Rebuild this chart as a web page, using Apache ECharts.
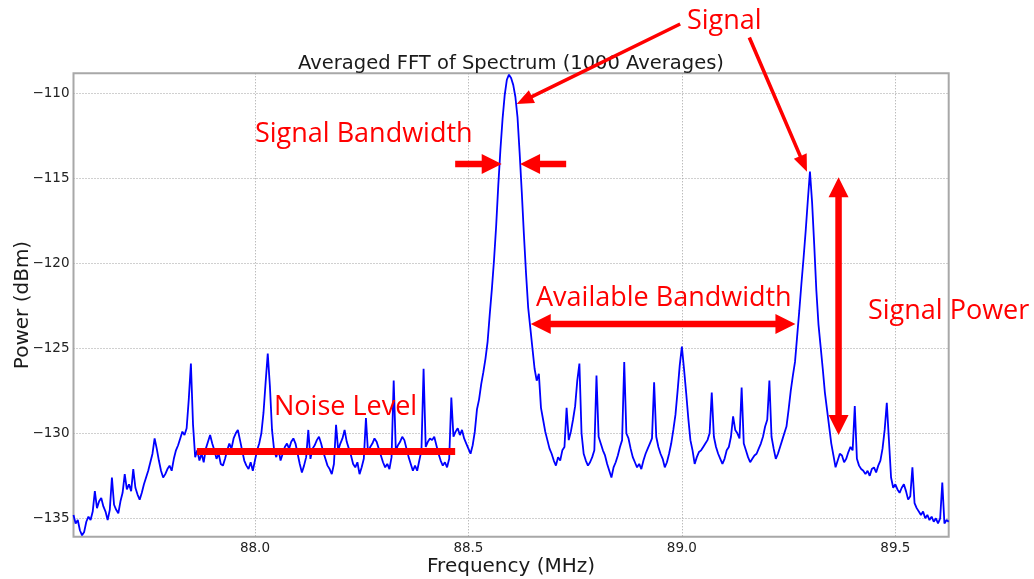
<!DOCTYPE html>
<html>
<head>
<meta charset="utf-8">
<title>Averaged FFT of Spectrum</title>
<script src="https://cdn.jsdelivr.net/npm/echarts@6/dist/echarts.min.js"></script>
<style>
  html, body { margin: 0; padding: 0; background: #ffffff; }
  #chart { width: 1034px; height: 579px; }
</style>
</head>
<body>
<div id="chart"></div>
<script>
// FFT bins: start frequency and bin spacing (MHz)
const freqStart = 87.575;
const freqStep = 0.005;

// Averaged power per bin (dBm)
const powerDbm = [
  -134.8,-135.3,-135.1,-135.7,-136.0,-135.8,-135.2,-134.9,-135.1,-134.6,
  -133.4,-134.4,-134.0,-133.8,-134.3,-134.6,-135.1,-134.5,-132.6,-134.2,
  -134.5,-134.7,-134.0,-133.5,-132.4,-133.3,-133.0,-133.4,-132.1,-133.2,
  -133.6,-133.9,-133.5,-133.0,-132.6,-132.2,-131.7,-131.2,-130.3,-130.9,
  -131.6,-132.2,-132.6,-132.4,-132.1,-131.9,-132.2,-131.5,-131.0,-130.7,
  -130.3,-129.9,-130.1,-129.7,-128.0,-125.9,-129.5,-131.4,-131.0,-131.6,
  -131.2,-131.7,-130.9,-130.5,-130.1,-130.6,-131.0,-131.5,-131.2,-131.8,
  -131.9,-131.5,-131.0,-130.6,-130.9,-130.3,-130.0,-129.8,-130.4,-131.0,
  -131.6,-131.9,-132.1,-131.7,-132.2,-131.6,-131.0,-130.6,-130.0,-128.8,
  -127.0,-125.3,-127.2,-129.8,-131.0,-131.4,-130.9,-131.6,-131.2,-130.8,
  -130.6,-130.9,-130.5,-130.3,-130.6,-131.2,-131.8,-132.3,-131.9,-131.4,
  -129.8,-131.5,-130.9,-130.7,-130.4,-130.2,-130.6,-131.1,-131.5,-131.9,
  -132.1,-132.4,-131.8,-129.5,-131.0,-130.6,-130.3,-129.8,-130.5,-130.9,
  -131.3,-131.8,-132.0,-131.7,-132.4,-132.0,-131.5,-129.1,-131.2,-130.8,
  -130.6,-130.3,-130.5,-130.9,-131.3,-131.7,-132.0,-131.8,-132.1,-131.4,
  -126.9,-131.0,-130.7,-130.5,-130.2,-130.4,-130.9,-131.4,-131.8,-132.2,
  -131.9,-132.2,-131.6,-131.0,-126.2,-130.8,-130.5,-130.3,-130.4,-130.2,
  -130.7,-131.2,-131.6,-131.9,-131.7,-132.0,-131.5,-127.9,-130.2,-129.9,
  -129.7,-130.1,-129.8,-130.3,-130.6,-130.9,-131.2,-130.7,-129.9,-128.6,
  -128.0,-127.1,-126.4,-125.6,-124.6,-123.0,-121.5,-119.8,-117.8,-115.4,
  -113.3,-111.5,-110.1,-109.2,-108.9,-109.1,-109.5,-110.2,-111.4,-113.5,
  -115.8,-118.3,-120.6,-122.6,-123.8,-125.0,-126.2,-126.9,-126.5,-128.5,
  -129.2,-129.9,-130.4,-130.9,-131.2,-131.6,-131.9,-131.4,-131.6,-131.0,
  -130.8,-128.5,-130.4,-129.9,-129.2,-128.4,-126.9,-125.9,-130.0,-131.2,
  -131.6,-131.9,-131.7,-131.4,-131.0,-126.6,-130.2,-130.6,-131.0,-131.3,
  -131.8,-132.2,-132.6,-132.0,-131.7,-131.3,-130.8,-130.4,-125.8,-130.0,
  -130.3,-130.9,-131.4,-131.7,-132.0,-131.8,-132.1,-131.6,-131.2,-130.9,
  -130.6,-130.3,-127.0,-130.2,-130.8,-131.2,-131.5,-132.0,-131.7,-131.2,
  -130.6,-129.8,-128.9,-127.5,-126.0,-124.9,-126.2,-127.6,-129.1,-130.4,
  -131.0,-131.8,-131.4,-131.1,-131.0,-130.8,-130.6,-130.4,-130.0,-127.6,
  -130.2,-130.8,-131.2,-131.5,-131.8,-131.5,-131.0,-130.8,-130.2,-129.0,
  -129.8,-130.0,-130.3,-127.3,-130.6,-131.0,-131.4,-131.7,-131.5,-131.3,
  -131.2,-130.9,-130.6,-130.2,-129.6,-129.2,-126.9,-130.2,-130.9,-131.5,
  -131.2,-130.8,-130.4,-130.0,-129.6,-128.6,-127.5,-126.6,-125.8,-124.3,
  -122.8,-121.2,-119.7,-118.1,-116.3,-114.6,-116.4,-118.9,-121.6,-123.6,
  -124.9,-126.2,-127.6,-128.6,-129.6,-130.6,-131.3,-132.0,-131.6,-131.2,
  -131.3,-131.7,-131.5,-131.1,-130.8,-131.0,-128.4,-131.5,-131.9,-132.1,
  -132.2,-132.4,-132.2,-132.5,-132.1,-132.0,-132.3,-131.9,-131.6,-130.9,
  -129.8,-128.2,-130.4,-132.6,-133.2,-133.0,-133.3,-133.5,-133.2,-133.0,
  -133.4,-133.9,-133.7,-132.0,-134.1,-134.4,-134.6,-134.8,-134.6,-135.0,
  -134.8,-135.1,-134.9,-135.2,-135.0,-135.3,-135.0,-132.9,-135.3,-135.1,-135.2
];

// Axis ranges and tick positions
const freqRange = [87.575, 89.625];
const powerRange = [-136.08, -108.82];
const freqTicks = [88.0, 88.5, 89.0, 89.5];
const powerTicks = [-135, -130, -125, -120, -115, -110];

// Annotation arrows, in (MHz, dBm)
const signalArrowA = [[88.996, -105.92], [88.613, -110.63]];
const signalArrowB = [[89.158, -106.71], [89.293, -114.61]];
const bandwidthArrowL = [[88.469, -114.16], [88.578, -114.16]];
const bandwidthArrowR = [[88.729, -114.16], [88.621, -114.16]];
const availableArrow = [[88.646, -123.57], [89.266, -123.57]];
const powerArrow = [[89.367, -114.94], [89.367, -130.10]];
const noiseLevel = [[87.864, -131.07], [88.469, -131.07]];

const freqs = powerDbm.map((_, i) => +(freqStart + i * freqStep).toFixed(3));
const spectrum = freqs.map((f, i) => [f, powerDbm[i]]);

const RED = '#ff0000';
const ANNO_FONT = '"Open Sans", "Noto Sans", sans-serif';
const AXIS_FONT = '"DejaVu Sans", sans-serif';

const chart = echarts.init(document.getElementById('chart'), null, { renderer: 'canvas' });

const fmtMinus = v => (v < 0 ? '\u2212' + Math.abs(v) : String(v));

chart.setOption({
  animation: false,
  backgroundColor: '#ffffff',
  title: {
    text: 'Averaged FFT of Spectrum (1000 Averages)',
    left: 511,
    top: 54,
    padding: 0,
    textAlign: 'center',
    textStyle: { fontFamily: AXIS_FONT, fontSize: 19.5, fontWeight: 'normal', color: '#1a1a1a' }
  },
  grid: {
    left: 73.5, right: 85.3, top: 73.3, bottom: 42.3,
    outerBoundsMode: 'none',
    containLabel: false,
    show: true, borderColor: '#a8a8a8', borderWidth: 2, backgroundColor: 'transparent'
  },
  xAxis: {
    type: 'value',
    min: freqRange[0], max: freqRange[1],
    name: 'Frequency (MHz)',
    nameLocation: 'middle',
    nameGap: 20,
    nameMoveOverlap: false,
    nameTextStyle: { fontFamily: AXIS_FONT, fontSize: 20, color: '#1a1a1a' },
    axisLine: { show: false },
    axisTick: { show: false, customValues: freqTicks },
    axisLabel: {
      customValues: freqTicks,
      formatter: v => v.toFixed(1),
      fontFamily: AXIS_FONT, fontSize: 13.5, color: '#222', margin: 5
    },
    splitLine: { show: true, lineStyle: { color: '#a0a0a0', width: 1, type: [1, 2] } }
  },
  yAxis: {
    type: 'value',
    min: powerRange[0], max: powerRange[1],
    name: 'Power (dBm)',
    nameLocation: 'middle',
    nameGap: 41,
    nameMoveOverlap: false,
    nameTextStyle: { fontFamily: AXIS_FONT, fontSize: 20, color: '#1a1a1a' },
    axisLine: { show: false },
    axisTick: { show: false, customValues: powerTicks },
    axisLabel: {
      customValues: powerTicks,
      formatter: fmtMinus,
      fontFamily: AXIS_FONT, fontSize: 13.5, color: '#222', margin: 4
    },
    splitLine: { show: true, lineStyle: { color: '#a0a0a0', width: 1, type: [1, 2] } }
  },
  series: [{
    type: 'line',
    data: spectrum,
    showSymbol: false,
    symbol: 'none',
    lineStyle: { color: '#0000ff', width: 1.8 },
    z: 3
  }]
});

// Build a filled arrow polygon from tail p0 to tip p1 (optionally with a head at both ends)
function arrowPoints(p0, p1, shaft, headLen, headW, both) {
  const dx = p1[0] - p0[0], dy = p1[1] - p0[1];
  const len = Math.hypot(dx, dy);
  const ux = dx / len, uy = dy / len, nx = -uy, ny = ux;
  const pt = (s, n) => [p0[0] + ux * s + nx * n, p0[1] + uy * s + ny * n];
  const hs = shaft / 2, hw = headW / 2;
  const pts = [];
  if (both) pts.push(pt(0, 0), pt(headLen, hw), pt(headLen, hs));
  else pts.push(pt(0, hs));
  pts.push(pt(len - headLen, hs), pt(len - headLen, hw), pt(len, 0),
           pt(len - headLen, -hw), pt(len - headLen, -hs));
  if (both) pts.push(pt(headLen, -hs), pt(headLen, -hw));
  else pts.push(pt(0, -hs));
  return pts;
}

function toPx(pair) {
  return pair.map(p => chart.convertToPixel({ gridIndex: 0 }, p));
}

function arrowShape(pair, shaft, headLen, headW, both) {
  const [a, b] = toPx(pair);
  return {
    type: 'polygon',
    silent: true,
    z: 10,
    shape: { points: arrowPoints(a, b, shaft, headLen, headW, both) },
    style: { fill: RED }
  };
}

function label(text, x, y) {
  return {
    type: 'text',
    silent: true,
    z: 10,
    x, y,
    style: {
      text, fill: RED, font: '27px ' + ANNO_FONT,
      align: 'left', verticalAlign: 'middle'
    }
  };
}

const [n0, n1] = toPx(noiseLevel);

chart.setOption({
  graphic: [
    label('Signal', 687, 21),
    label('Signal Bandwidth', 255, 134),
    label('Available Bandwidth', 536, 298),
    label('Signal Power', 868, 311),
    label('Noise Level', 274, 407),
    arrowShape(signalArrowA, 3.6, 17, 14, false),
    arrowShape(signalArrowB, 3.6, 17, 14, false),
    arrowShape(bandwidthArrowL, 6.5, 20, 20, false),
    arrowShape(bandwidthArrowR, 6.5, 20, 20, false),
    arrowShape(availableArrow, 6.5, 20, 20, true),
    arrowShape(powerArrow, 6.5, 20, 20, true),
    {
      type: 'line', silent: true, z: 10,
      shape: { x1: n0[0], y1: n0[1], x2: n1[0], y2: n1[1] },
      style: { stroke: RED, lineWidth: 7 }
    }
  ]
});
</script>
</body>
</html>
